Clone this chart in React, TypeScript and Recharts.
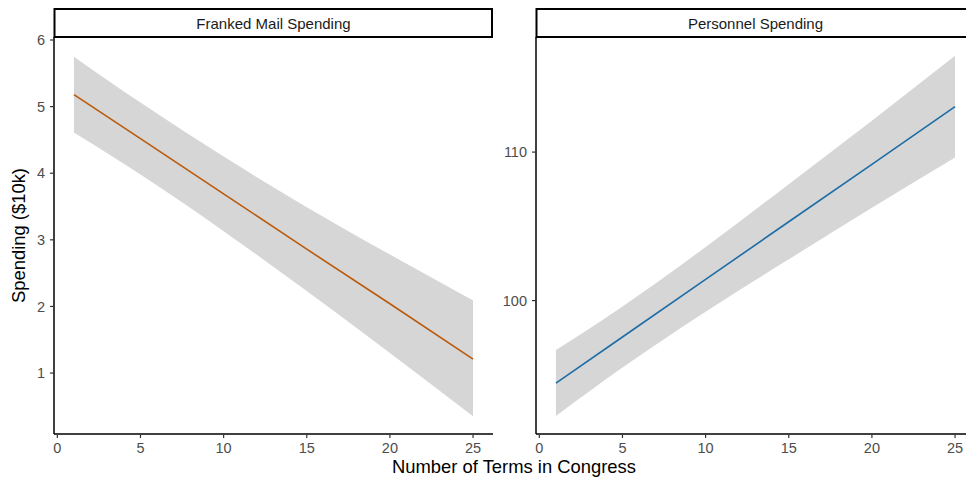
import { ComposedChart, Area, Line, XAxis, YAxis } from 'recharts'

// terms in Congress where the fitted values were read
const terms = [1, 5, 10, 15, 20, 25]

// Franked mail spending ($10k): fit and confidence band
const mailFit = [5.18, 4.52, 3.69, 2.86, 2.04, 1.21]
const mailLow = [4.61, 3.98, 3.13, 2.23, 1.3, 0.35]
const mailHigh = [5.75, 5.06, 4.25, 3.49, 2.78, 2.09]

// Personnel spending ($10k): fit and confidence band
const staffFit = [94.45, 97.55, 101.43, 105.31, 109.18, 113.06]
const staffLow = [92.23, 95.49, 99.25, 102.78, 106.25, 109.64]
const staffHigh = [96.67, 99.61, 103.61, 107.84, 112.11, 116.48]

const xTicks = [0, 5, 10, 15, 20, 25]
const mailTicks = [1, 2, 3, 4, 5, 6]
const staffTicks = [100, 110]

const mailRows = terms.map((x, i) => ({ x, fit: mailFit[i], band: [mailLow[i], mailHigh[i]] }))
const staffRows = terms.map((x, i) => ({ x, fit: staffFit[i], band: [staffLow[i], staffHigh[i]] }))

const FONT = '"Liberation Sans", Arial, Helvetica, sans-serif'
const tickStyle = { fill: '#4D4D4D', fontSize: 14.5 }

function Panel({ rows, color, domain, ticks }: { rows: any[], color: string, domain: [number, number], ticks: number[] }) {
  return (
    <ComposedChart width={493} height={481} data={rows} margin={{ top: 37, right: 0, bottom: 0, left: 0 }}>
      <XAxis type="number" dataKey="x" domain={[-0.2, 26.2]} ticks={xTicks} allowDataOverflow
        height={47} tickSize={4} tickMargin={5} tick={tickStyle}
        axisLine={{ stroke: '#000', strokeWidth: 1.5 }} tickLine={{ stroke: '#333', strokeWidth: 1.2 }} />
      <YAxis type="number" domain={domain} ticks={ticks} allowDataOverflow
        width={54} tickSize={4} tickMargin={5} tick={tickStyle}
        axisLine={{ stroke: '#000', strokeWidth: 1.5 }} tickLine={{ stroke: '#333', strokeWidth: 1.2 }} />
      <Area type="monotone" dataKey="band" fill="#D6D6D6" fillOpacity={1} stroke="none" isAnimationActive={false} />
      <Line type="linear" dataKey="fit" stroke={color} strokeWidth={1.6} dot={false} activeDot={false} isAnimationActive={false} />
    </ComposedChart>
  )
}

export default function App() {
  return (
    <div style={{ position: 'absolute', left: 0, top: 0, width: 966, height: 481, overflow: 'hidden', background: '#fff', fontFamily: FONT }}>
      <div style={{ position: 'absolute', left: 0, top: 0 }}>
        <Panel rows={mailRows} color="#BA5A0C" domain={[0.085, 6.045]} ticks={mailTicks} />
      </div>
      <div style={{ position: 'absolute', left: 482, top: 0 }}>
        <Panel rows={staffRows} color="#1C6CA6" domain={[91.02, 117.75]} ticks={staffTicks} />
      </div>
      <svg width={966} height={481} style={{ position: 'absolute', left: 0, top: 0, pointerEvents: 'none' }}>
        <rect x={54.5} y={9} width={437.5} height={28} fill="#fff" stroke="#000" strokeWidth={2} />
        <text x={273.5} y={28.5} textAnchor="middle" fontSize={15} fill="#1A1A1A">Franked Mail Spending</text>
        <rect x={536.5} y={9} width={440} height={28} fill="#fff" stroke="#000" strokeWidth={2} />
        <text x={755.5} y={28.5} textAnchor="middle" fontSize={15} fill="#1A1A1A">Personnel Spending</text>
        <text x={514} y={473} textAnchor="middle" fontSize={18.4} fill="#000">Number of Terms in Congress</text>
        <text x={24.5} y={235.5} textAnchor="middle" fontSize={18.4} fill="#000" transform="rotate(-90 24.5 235.5)">Spending ($10k)</text>
      </svg>
    </div>
  )
}
